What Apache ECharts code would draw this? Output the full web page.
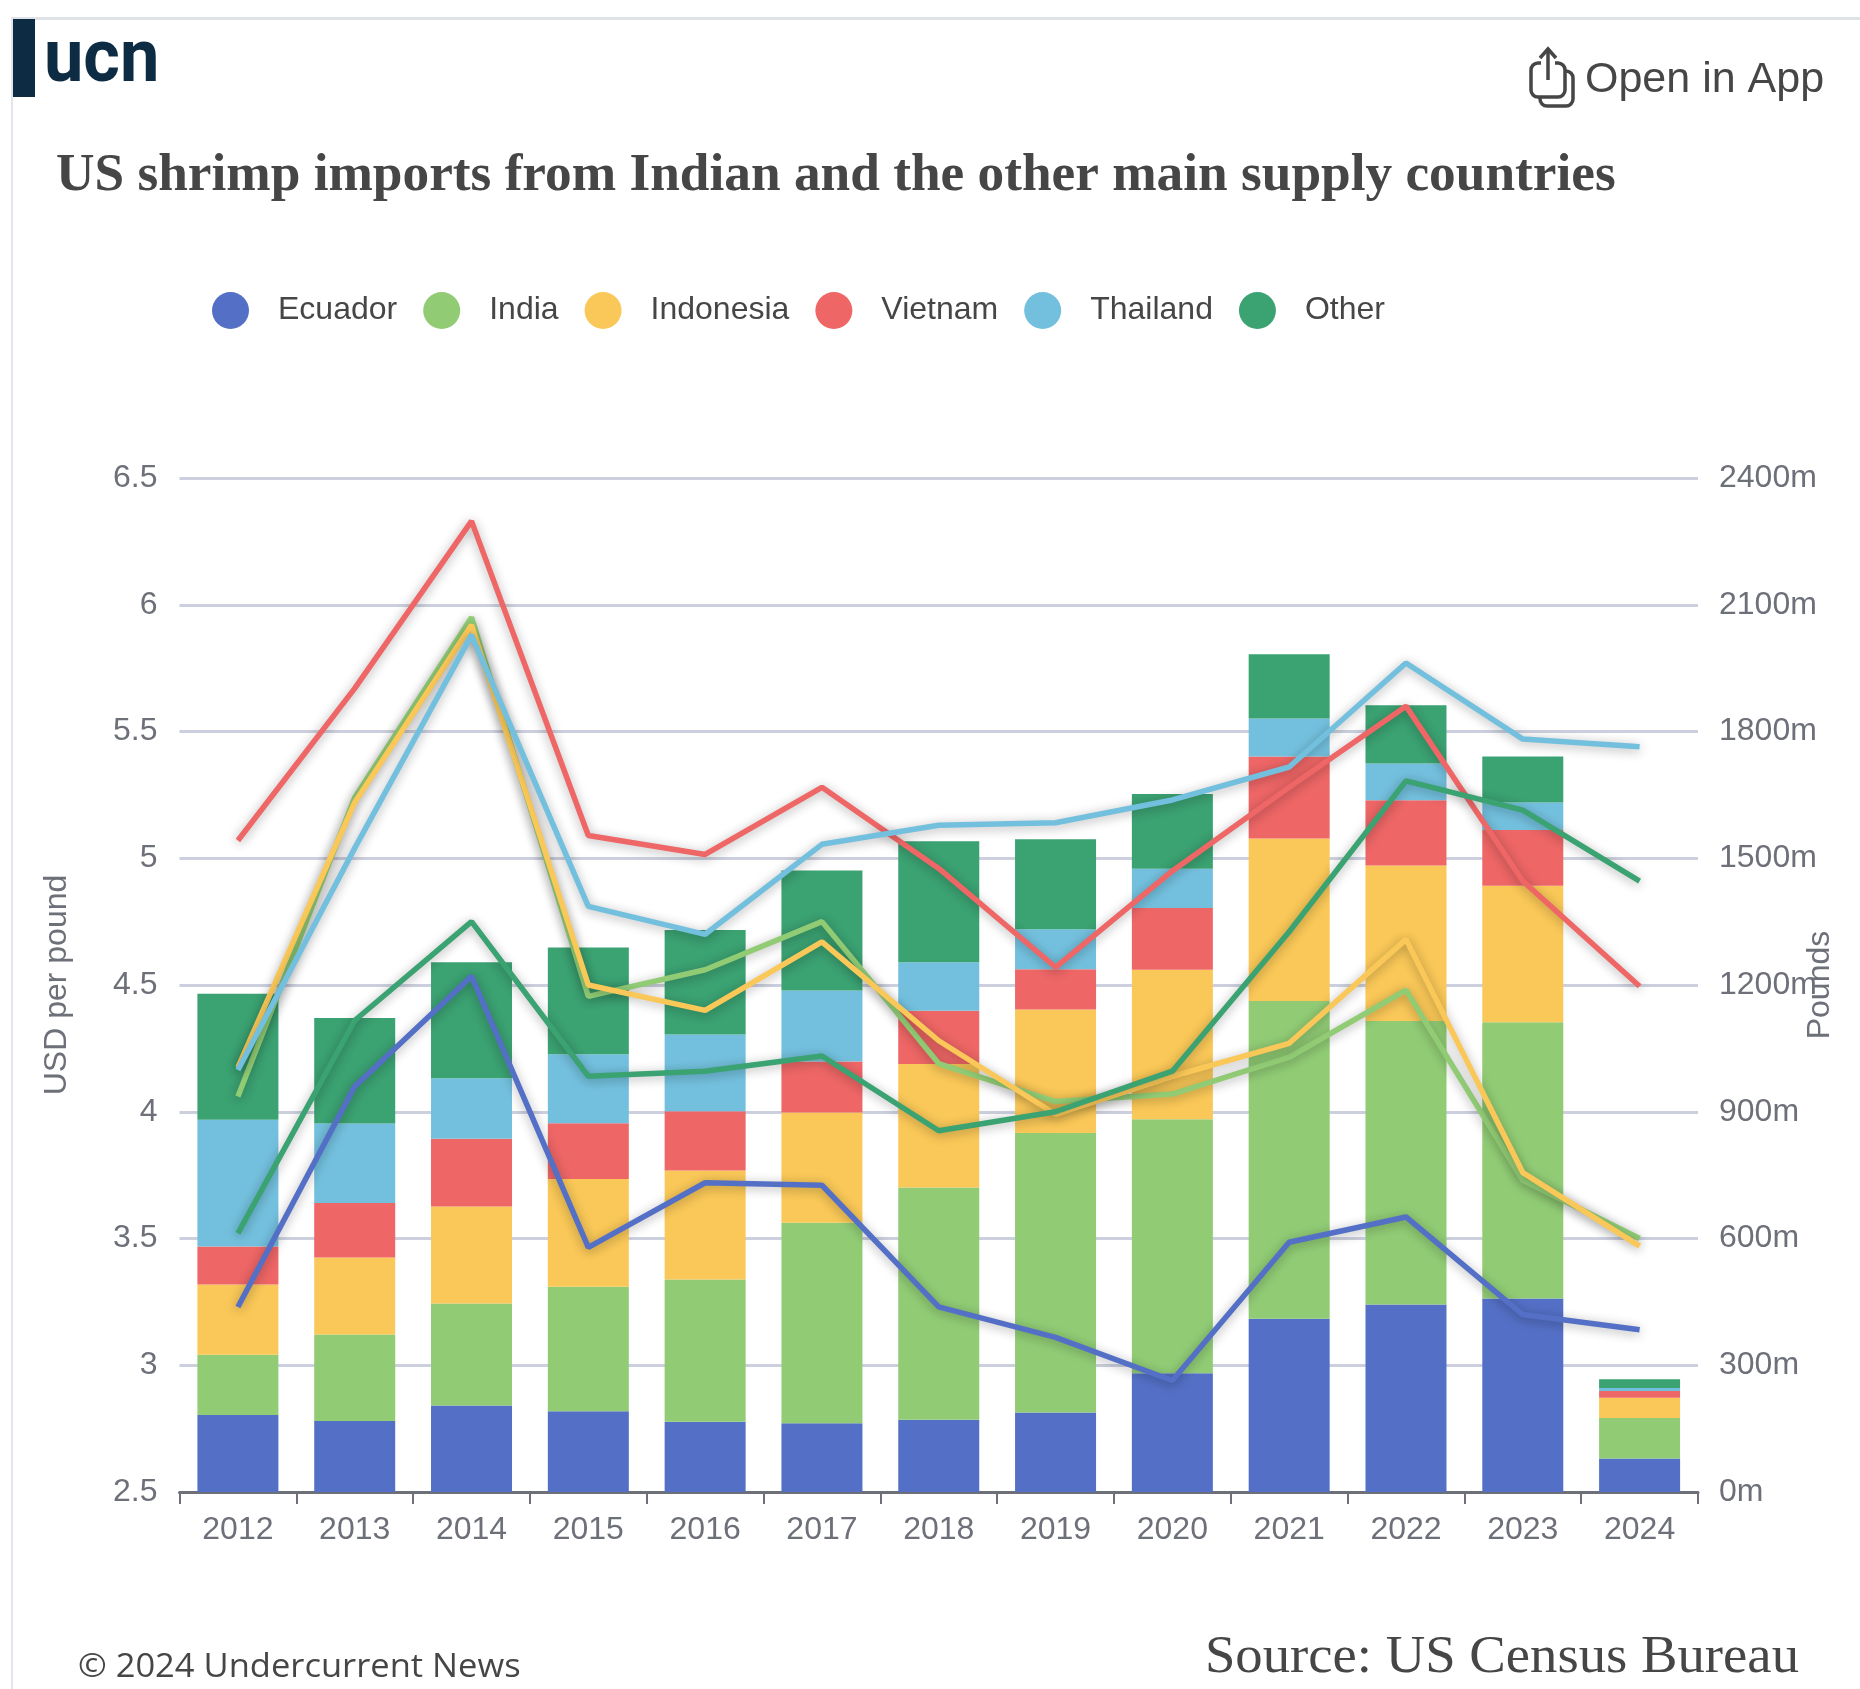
<!DOCTYPE html>
<html>
<head>
<meta charset="utf-8">
<title>US shrimp imports</title>
<script src="https://cdn.jsdelivr.net/npm/echarts@6/dist/echarts.min.js"></script>
<style>
html,body{margin:0;padding:0;background:#fff}
#chart{width:1860px;height:1689px}
</style>
</head>
<body>
<div id="chart"></div>
<script>
const years = ['2012','2013','2014','2015','2016','2017','2018','2019','2020','2021','2022','2023','2024'];
const countries = ['Ecuador','India','Indonesia','Vietnam','Thailand','Other'];
const palette = ['#5470c6','#91cc75','#fac858','#ee6666','#73c0de','#3ba272'];

// Import volumes, million pounds
const poundsEcuador   = [182,168,205,191,166,163,171,188,281,410,444,458,79];
const poundsIndia     = [143,205,241,295,337,474,550,662,601,752,671,654,96];
const poundsIndonesia = [166,182,230,255,258,261,292,292,354,385,368,323,48];
const poundsVietnam   = [90,129,160,132,140,121,126,95,146,194,154,132,16];
const poundsThailand  = [300,188,143,163,182,168,115,95,93,90,87,65,7];
const poundsOther     = [298,250,275,253,247,284,286,213,177,152,138,109,21];

// Average import price, USD per pound
const priceEcuador   = [3.23,4.10,4.535,3.465,3.72,3.71,3.23,3.11,2.94,3.485,3.585,3.20,3.14];
const priceIndia     = [4.06,5.24,5.95,4.455,4.56,4.75,4.19,4.04,4.07,4.215,4.48,3.73,3.50];
const priceIndonesia = [4.175,5.22,5.92,4.50,4.40,4.67,4.28,3.99,4.14,4.27,4.68,3.76,3.47];
const priceVietnam   = [5.07,5.67,6.33,5.09,5.015,5.28,4.96,4.57,4.95,5.28,5.60,4.91,4.495];
const priceThailand  = [4.165,5.04,5.88,4.81,4.70,5.055,5.13,5.14,5.23,5.36,5.77,5.47,5.44];
const priceOther     = [3.52,4.36,4.75,4.14,4.16,4.22,3.925,4.00,4.16,4.71,5.305,5.19,4.91];

const poundsByCountry = [poundsEcuador,poundsIndia,poundsIndonesia,poundsVietnam,poundsThailand,poundsOther];
const priceByCountry  = [priceEcuador,priceIndia,priceIndonesia,priceVietnam,priceThailand,priceOther];

const axisGrey = '#6e7079';
const textDark = '#464646';
const sans = '"Liberation Sans", Arial, sans-serif';
const serif = '"Liberation Serif", "Times New Roman", serif';

const barSeries = countries.map((name,i)=>({
  name, type:'bar', stack:'volume', yAxisIndex:1, barWidth:81,
  itemStyle:{color:palette[i]}, data:poundsByCountry[i], z:2
}));
const lineSeries = countries.map((name,i)=>({
  name, type:'line', yAxisIndex:0, showSymbol:false, symbol:'none',
  lineStyle:{color:palette[i],width:5.5,shadowColor:'rgba(0,0,0,0.33)',shadowBlur:11,shadowOffsetY:2},
  itemStyle:{color:palette[i]}, data:priceByCountry[i], z:3
}));

const chart = echarts.init(document.getElementById('chart'),null,{renderer:'canvas'});
chart.setOption({
  animation:false,
  backgroundColor:'#fff',
  color:palette,
  title:{
    text:'US shrimp imports from Indian and the other main supply countries',
    left:56, top:150, padding:0,
    textStyle:{fontFamily:serif,fontWeight:'bold',fontSize:53.3,color:textDark}
  },
  legend:{
    data:countries, left:212, top:292, padding:0, icon:'circle',
    itemWidth:37, itemHeight:38, itemGap:26,
    textStyle:{fontFamily:sans,fontSize:32,color:'#464646',padding:[0,0,0,24]}
  },
  grid:{left:179.5,right:162,top:478,height:1014,outerBoundsMode:'none'},
  xAxis:{
    type:'category', data:years, boundaryGap:true,
    axisLine:{lineStyle:{color:axisGrey,width:3}},
    axisTick:{show:true,length:12,lineStyle:{color:axisGrey,width:2}},
    axisLabel:{color:axisGrey,fontFamily:sans,fontSize:32,margin:22}
  },
  yAxis:[{
    type:'value', min:2.5, max:6.5, interval:0.5, position:'left',
    name:'USD per pound', nameLocation:'middle', nameGap:106, nameMoveOverlap:false,
    nameTextStyle:{color:axisGrey,fontFamily:sans,fontSize:32},
    axisLine:{show:false}, axisTick:{show:false},
    axisLabel:{color:axisGrey,fontFamily:sans,fontSize:32,margin:22},
    splitLine:{lineStyle:{color:'#ccd0de',width:3}}
  },{
    type:'value', min:0, max:2400, interval:300, position:'right',
    name:'Pounds', nameLocation:'middle', nameGap:106, nameRotate:90, nameMoveOverlap:false,
    nameTextStyle:{color:axisGrey,fontFamily:sans,fontSize:32},
    axisLine:{show:false}, axisTick:{show:false},
    axisLabel:{color:axisGrey,fontFamily:sans,fontSize:32,margin:21,formatter:v=>v+'m'},
    splitLine:{show:false}
  }],
  series:barSeries.concat(lineSeries),
  graphic:[
    // card edge
    {type:'rect',silent:true,shape:{x:11,y:17,width:1849,height:3},style:{fill:'#dfe3e8'}},
    {type:'rect',silent:true,shape:{x:11,y:17,width:2,height:1672},style:{fill:'#e2e4ee'}},
    // brand mark
    {type:'rect',silent:true,shape:{x:13,y:19,width:22,height:78},style:{fill:'#0d2b42'}},
    {type:'text',silent:true,x:44,y:99,scaleX:0.95,
      style:{text:'ucn',fontFamily:'Roboto',fontWeight:700,fontSize:74,fill:'#0d2b42',verticalAlign:'bottom'}},
    // share icon: back card, front card, gap for the arrow, arrow
    {type:'rect',silent:true,z:10,shape:{x:1540,y:71,width:33,height:35,r:7},style:{fill:'#fff',stroke:textDark,lineWidth:3.5}},
    {type:'rect',silent:true,z:11,shape:{x:1531,y:63,width:34,height:34,r:7},style:{fill:'#fff',stroke:textDark,lineWidth:3.5}},
    {type:'rect',silent:true,z:12,shape:{x:1541,y:60,width:14,height:6},style:{fill:'#fff'}},
    {type:'polyline',silent:true,z:13,shape:{points:[[1548,50],[1548,80]]},style:{stroke:textDark,lineWidth:3.5,fill:'none'}},
    {type:'polyline',silent:true,z:13,shape:{points:[[1540,58],[1548,49],[1556,58]]},style:{stroke:textDark,lineWidth:3.5,fill:'none'}},
    {type:'text',silent:true,x:1585,y:80,
      style:{text:'Open in App',fontFamily:sans,fontSize:43,fill:textDark,verticalAlign:'middle'}},
    // footer
    {type:'text',silent:true,x:78,y:1668,scaleX:1.078,
      style:{text:'© 2024 Undercurrent News',fontFamily:'"Open Sans"',fontSize:32,fill:textDark,verticalAlign:'middle'}},
    {type:'text',silent:true,x:1799,y:1658,scaleX:1.052,
      style:{text:'Source: US Census Bureau',fontFamily:serif,fontSize:52,fill:textDark,align:'right',verticalAlign:'middle'}}
  ]
});
</script>
</body>
</html>
